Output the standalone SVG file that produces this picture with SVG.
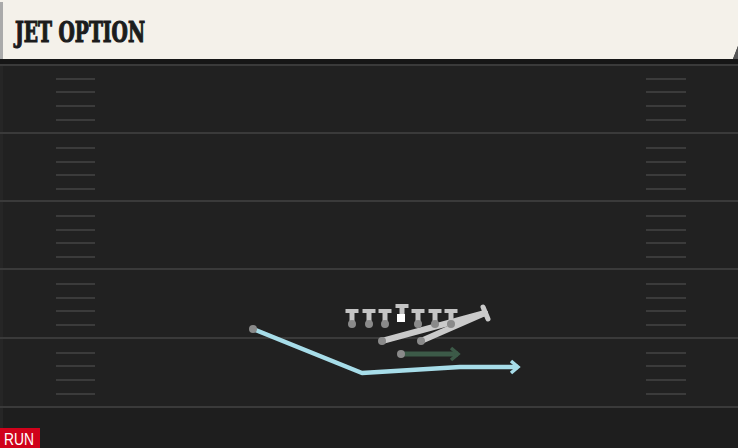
<svg xmlns="http://www.w3.org/2000/svg" width="738" height="448" viewBox="0 0 738 448">
<defs>
<style>
.yard{stroke:#3a3a3a;stroke-width:2}
.hash{stroke:#3b3b3b;stroke-width:2}
.pl{fill:#c4c4c4}
.dot{fill:#8a8a8a}
.gray{stroke:#cacaca;stroke-width:6;stroke-linecap:round;fill:none}
.blue{stroke:#a7dde9;stroke-width:4.5;fill:none;stroke-linejoin:round}
.green{stroke:#3c5a48;stroke-width:5;fill:none}
</style>
<marker id="ahBlue" markerWidth="14" markerHeight="16" refX="9" refY="8" orient="auto" markerUnits="userSpaceOnUse">
<path d="M2,2 L9,8 L2,14" fill="none" stroke="#a7dde9" stroke-width="3.5"/>
</marker>
<marker id="ahGreen" markerWidth="14" markerHeight="16" refX="9" refY="8" orient="auto" markerUnits="userSpaceOnUse">
<path d="M2,2 L9,8 L2,14" fill="none" stroke="#3c5a48" stroke-width="3.5"/>
</marker>
</defs>
<rect x="0" y="0" width="738" height="448" fill="#212121"/>
<rect x="0" y="407" width="738" height="41" fill="#1e1e1e"/>
<rect x="0" y="59" width="738" height="6" fill="#161616"/>
<rect x="0" y="65" width="3" height="383" fill="#262626"/>
<g id="field">
<line class="yard" x1="0" y1="65" x2="738" y2="65"/>
<line class="yard" x1="0" y1="133" x2="738" y2="133"/>
<line class="yard" x1="0" y1="201" x2="738" y2="201"/>
<line class="yard" x1="0" y1="269" x2="738" y2="269"/>
<line class="yard" x1="0" y1="338" x2="738" y2="338"/>
<line class="yard" x1="0" y1="407" x2="738" y2="407"/>
<path class="hash" d="M56,79H95M56,92H95M56,106H95M56,120H95M56,148H95M56,162H95M56,175H95M56,189H95M56,216H95M56,230H95M56,243H95M56,257H95M56,284H95M56,298H95M56,311H95M56,325H95M56,353H95M56,366H95M56,380H95M56,394H95"/>
<path class="hash" d="M646,79H686M646,92H686M646,106H686M646,120H686M646,148H686M646,162H686M646,175H686M646,189H686M646,216H686M646,230H686M646,243H686M646,257H686M646,284H686M646,298H686M646,311H686M646,325H686M646,353H686M646,366H686M646,380H686M646,394H686"/>
</g>
<g id="header">
<path d="M0,0 H738 V46 L733,59 H0 Z" fill="#f4f1ea"/>
<path d="M738,46 L733,59 H738 Z" fill="#555"/>
<rect x="0" y="2" width="3" height="57" fill="#aaa"/>
<text x="15" y="42" font-family="DejaVu Serif, serif" font-weight="bold" font-size="27" fill="#1c1c1c" stroke="#1c1c1c" stroke-width="1.2" textLength="130" lengthAdjust="spacingAndGlyphs">JET OPTION</text>
</g>
<g id="connectors">
<polyline class="blue" points="253,329 362,373 460,367 518,367" marker-end="url(#ahBlue)"/>
<line class="green" x1="401" y1="354" x2="458" y2="354" marker-end="url(#ahGreen)"/>
<line class="gray" x1="382" y1="341" x2="485" y2="313"/>
<line class="gray" x1="421" y1="341" x2="485" y2="313"/>
<line x1="483" y1="307" x2="488" y2="319" stroke="#cacaca" stroke-width="5" stroke-linecap="round"/>
</g>
<g id="players">
<g id="p1"><rect class="pl" x="345.5" y="309" width="13" height="4"/><rect class="pl" x="349.5" y="312" width="5" height="11"/><circle class="dot" cx="352" cy="324" r="4"/></g>
<g id="p2"><rect class="pl" x="362.5" y="309" width="13" height="4"/><rect class="pl" x="366.5" y="312" width="5" height="11"/><circle class="dot" cx="369" cy="324" r="4"/></g>
<g id="p3"><rect class="pl" x="378.5" y="309" width="13" height="4"/><rect class="pl" x="382.5" y="312" width="5" height="11"/><circle class="dot" cx="385" cy="324" r="4"/></g>
<g id="center"><rect class="pl" x="395.5" y="304" width="13" height="4"/><rect class="pl" x="399.5" y="307" width="5" height="8"/><rect x="397" y="314" width="8" height="8" fill="#ffffff"/></g>
<g id="p5"><rect class="pl" x="411.5" y="309" width="13" height="4"/><rect class="pl" x="415.5" y="312" width="5" height="11"/><circle class="dot" cx="418" cy="324" r="4"/></g>
<g id="p6"><rect class="pl" x="428.5" y="309" width="13" height="4"/><rect class="pl" x="432.5" y="312" width="5" height="11"/><circle class="dot" cx="435" cy="324" r="4"/></g>
<g id="p7"><rect class="pl" x="444.5" y="309" width="13" height="4"/><rect class="pl" x="448.5" y="312" width="5" height="11"/><circle class="dot" cx="451" cy="324" r="4"/></g>
<g id="backs">
<circle class="dot" cx="382" cy="341" r="4"/>
<circle class="dot" cx="421" cy="341" r="4"/>
<circle class="dot" cx="401" cy="354" r="4"/>
<circle class="dot" cx="253" cy="329" r="4"/>
</g>
</g>
<g id="badge">
<rect x="0" y="428" width="40" height="20" fill="#d0021b"/>
<text x="4" y="445" font-family="Liberation Sans Narrow, Liberation Sans, sans-serif" font-size="16" fill="#ffffff" textLength="30" lengthAdjust="spacingAndGlyphs">RUN</text>
</g>
</svg>
